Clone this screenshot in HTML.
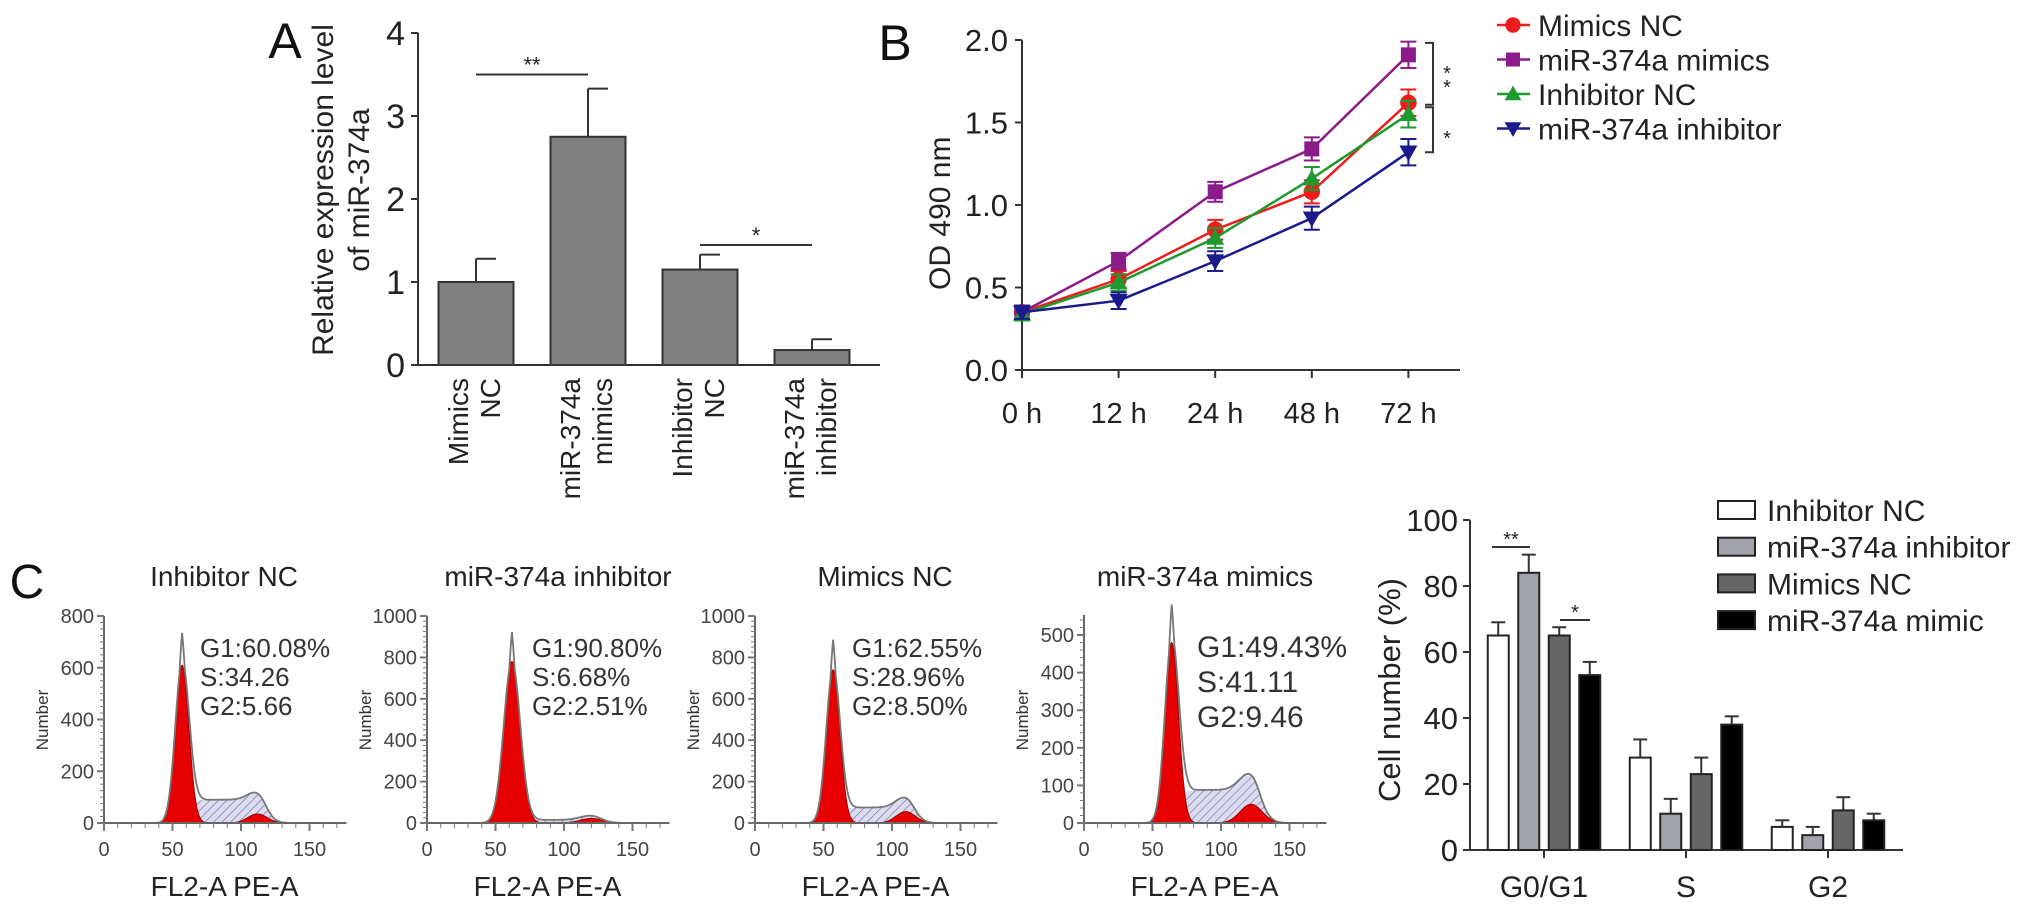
<!DOCTYPE html>
<html><head><meta charset="utf-8"><style>
html,body{margin:0;padding:0;background:#fff}
svg{display:block;font-family:"Liberation Sans",Arial,sans-serif}
</style></head><body>
<svg id="fig" width="2032" height="912" viewBox="0 0 2032 912" xmlns="http://www.w3.org/2000/svg">
<defs>
<pattern id="hatch" width="6" height="6" patternUnits="userSpaceOnUse" patternTransform="rotate(45)">
<rect width="6" height="6" fill="#dcdcf0"/><line x1="0" y1="0" x2="0" y2="6" stroke="#6a6aa0" stroke-width="1.2"/>
</pattern>
</defs>
<g id="gA"></g>
<g id="gB"></g>
<g id="gH"></g>
<g id="gC"></g>
</svg>
<script>
// ---------- Panel A data ----------
const aCategories = [["Mimics","NC"],["miR-374a","mimics"],["Inhibitor","NC"],["miR-374a","inhibitor"]];
const aValues = [1.0, 2.75, 1.15, 0.18];
const aErrors = [0.28, 0.58, 0.18, 0.13];
const aTicks = [0,1,2,3,4];
// ---------- Panel B data ----------
const bTimes = ["0 h","12 h","24 h","48 h","72 h"];
const bSeriesNames = ["Mimics NC","miR-374a mimics","Inhibitor NC","miR-374a inhibitor"];
const bMimicsNC = [0.35,0.55,0.85,1.08,1.62];
const bMimics = [0.35,0.66,1.08,1.34,1.91];
const bInhNC = [0.34,0.53,0.80,1.16,1.55];
const bInh = [0.35,0.42,0.66,0.92,1.32];
const bErr = [0.04,0.05,0.06,0.07,0.08];
const bTicks = [0,0.5,1.0,1.5,2.0];
// ---------- Panel C histogram data (G1 mean, G1 height, G1 sd, S level, G2 mean, G2 height, G2 sd) ----------
const hTitles = ["Inhibitor NC","miR-374a inhibitor","Mimics NC","miR-374a mimics"];
const hStats = [["G1:60.08%","S:34.26","G2:5.66"],["G1:90.80%","S:6.68%","G2:2.51%"],["G1:62.55%","S:28.96%","G2:8.50%"],["G1:49.43%","S:41.11","G2:9.46"]];
const hYMax = [800,1000,1000,500];
const hG1Mean = [57,62,57,64];
const hG1Height = [610,780,740,480];
const hG1Sd = [5,6,5,5];
const hSLevel = [90,15,75,88];
const hG2Mean = [112,120,110,122];
const hG2Height = [35,22,55,50];
const hG2Sd = [7,8,7,8];
// ---------- Panel C bar data ----------
const cPhases = ["G0/G1","S","G2"];
const cGroups = ["Inhibitor NC","miR-374a inhibitor","Mimics NC","miR-374a mimic"];
const cInhNC = [65,28,7];
const cInh = [84,11,4.5];
const cMimNC = [65,23,12];
const cMim = [53,38,9];
const cInhNCErr = [4,5.5,2];
const cInhErr = [5.5,4.5,2.5];
const cMimNCErr = [2.5,5,4];
const cMimErr = [4,2.5,2];
const cTicks = [0,20,40,60,80,100];

const NS="http://www.w3.org/2000/svg";
function mk(parent, tag, attrs, text){
  const e=document.createElementNS(NS,tag);
  for(const k in attrs) e.setAttribute(k,attrs[k]);
  if(text!==undefined) e.textContent=text;
  parent.appendChild(e); return e;
}
const INK="#333";

// ================= Panel A =================
(function(){
  const g=document.getElementById('gA');
  const x0=418, yA=v=>365-v*83, bx=i=>476+i*112, bw=75;
  let t=mk(g,'text',{x:285,y:58,'font-size':50,'text-anchor':'middle',fill:'#111'},'A');
   
  let ax=mk(g,'line',{x1:x0,y1:yA(4),x2:x0,y2:yA(0),stroke:INK,'stroke-width':2});
   
  let bx0=mk(g,'line',{x1:x0,y1:yA(0),x2:880,y2:yA(0),stroke:INK,'stroke-width':2});
   
  aTicks.forEach(v=>{
    mk(g,'line',{x1:x0-7,y1:yA(v),x2:x0,y2:yA(v),stroke:INK,'stroke-width':2});
    let l=mk(g,'text',{x:x0-13,y:yA(v)+12,'font-size':34,'text-anchor':'end',fill:'#222'},String(v));
     
  });
  let yt=mk(g,'text',{transform:'translate(333,190) rotate(-90)','font-size':30,'text-anchor':'middle',fill:'#222'});
   
  mk(yt,'tspan',{x:0,y:0},'Relative expression level');
  mk(yt,'tspan',{x:0,y:36},'of miR-374a');
  aValues.forEach((v,i)=>{
    const cx=bx(i);
    mk(g,'line',{x1:cx,y1:yA(v),x2:cx,y2:yA(v+aErrors[i]),stroke:INK,'stroke-width':2});
    mk(g,'line',{x1:cx,y1:yA(v+aErrors[i]),x2:cx+20,y2:yA(v+aErrors[i]),stroke:INK,'stroke-width':2});
    let r=mk(g,'rect',{x:cx-bw/2,y:yA(v),width:bw,height:yA(0)-yA(v),fill:'#808080',stroke:INK,'stroke-width':2});
     
    const lb=mk(g,'text',{transform:`translate(${cx},378) rotate(-90)`,'font-size':28,'text-anchor':'end',fill:'#222'});
     
    mk(lb,'tspan',{x:0,y:-8},aCategories[i][0]);
    mk(lb,'tspan',{x:0,y:24},aCategories[i][1]);
  });
  // significance
  mk(g,'line',{x1:bx(0),y1:yA(3.5),x2:bx(1),y2:yA(3.5),stroke:INK,'stroke-width':2});
  let s1=mk(g,'text',{x:(bx(0)+bx(1))/2,y:yA(3.5)-2,'font-size':22,'text-anchor':'middle',fill:'#222'},'**');
   
  mk(g,'line',{x1:bx(2),y1:245,x2:bx(3),y2:245,stroke:INK,'stroke-width':2});
  let s2=mk(g,'text',{x:(bx(2)+bx(3))/2,y:243,'font-size':22,'text-anchor':'middle',fill:'#222'},'*');
   
})();

// ================= Panel B =================
(function(){
  const g=document.getElementById('gB');
  const x0=1022, yB=v=>370-v*165, xB=i=>1022+i*96.6;
  let t=mk(g,'text',{x:895,y:60,'font-size':50,'text-anchor':'middle',fill:'#111'},'B');
   
  let ya=mk(g,'line',{x1:x0,y1:yB(2),x2:x0,y2:yB(0),stroke:INK,'stroke-width':2});
   
  let xa=mk(g,'line',{x1:x0,y1:yB(0),x2:1460,y2:yB(0),stroke:INK,'stroke-width':2});
   
  bTicks.forEach(v=>{
    mk(g,'line',{x1:x0-7,y1:yB(v),x2:x0,y2:yB(v),stroke:INK,'stroke-width':2});
    let l=mk(g,'text',{x:x0-14,y:yB(v)+11,'font-size':31,'text-anchor':'end',fill:'#222'},v.toFixed(1));
     
  });
  bTimes.forEach((s,i)=>{
    mk(g,'line',{x1:xB(i),y1:yB(0),x2:xB(i),y2:yB(0)+8,stroke:INK,'stroke-width':2});
    let l=mk(g,'text',{x:xB(i),y:423,'font-size':29,'text-anchor':'middle',fill:'#222'},s);
     
  });
  let yt=mk(g,'text',{transform:`translate(950,${yB(0.95)}) rotate(-90)`,'font-size':30,'text-anchor':'middle',fill:'#222'},'OD 490 nm');
   
  const series=[bMimicsNC,bMimics,bInhNC,bInh];
  const colors=['#ee1c1c','#8b1a8b','#1e9a2e','#1a1a8c'];
  const shapes=['circle','square','tri','tridown'];
  function marker(par,shape,cx,cy,col,s){
    let m;
    if(shape==='circle') m=mk(par,'circle',{cx:cx,cy:cy,r:s*0.55,fill:col});
    else if(shape==='square') m=mk(par,'rect',{x:cx-s/2,y:cy-s/2,width:s,height:s,fill:col});
    else if(shape==='tri') m=mk(par,'polygon',{points:`${cx},${cy-s*0.6} ${cx-s*0.6},${cy+s*0.45} ${cx+s*0.6},${cy+s*0.45}`,fill:col});
    else m=mk(par,'polygon',{points:`${cx},${cy+s*0.6} ${cx-s*0.6},${cy-s*0.45} ${cx+s*0.6},${cy-s*0.45}`,fill:col});
    return m;
  }
  series.forEach((arr,si)=>{
    const sg=mk(g,'g',{});
     
    let p=mk(sg,'polyline',{points:arr.map((v,i)=>xB(i)+','+yB(v)).join(' '),fill:'none',stroke:colors[si],'stroke-width':2.5});
     
    arr.forEach((v,i)=>{
      const e=bErr[i];
      mk(sg,'line',{x1:xB(i),y1:yB(v-e),x2:xB(i),y2:yB(v+e),stroke:colors[si],'stroke-width':2});
      mk(sg,'line',{x1:xB(i)-8,y1:yB(v-e),x2:xB(i)+8,y2:yB(v-e),stroke:colors[si],'stroke-width':2});
      mk(sg,'line',{x1:xB(i)-8,y1:yB(v+e),x2:xB(i)+8,y2:yB(v+e),stroke:colors[si],'stroke-width':2});
      const m=marker(sg,shapes[si],xB(i),yB(v),colors[si],15);
       
    });
  });
  // brackets
  const xb=1425;
  mk(g,'polyline',{points:`${xb},${yB(bMimics[4])-12} ${xb+8},${yB(bMimics[4])-12} ${xb+8},${yB(bMimicsNC[4])+2} ${xb},${yB(bMimicsNC[4])+2}`,fill:'none',stroke:INK,'stroke-width':2});
  mk(g,'polyline',{points:`${xb},${yB(bInhNC[4])-7} ${xb+8},${yB(bInhNC[4])-7} ${xb+8},${yB(bInh[4])+0} ${xb},${yB(bInh[4])+0}`,fill:'none',stroke:INK,'stroke-width':2});
  let st1=mk(g,'text',{x:1447,y:80,'font-size':20,'text-anchor':'middle',fill:'#222'},'*');
   
  let st1b=mk(g,'text',{x:1447,y:94,'font-size':20,'text-anchor':'middle',fill:'#222'},'*');
   
  let st2=mk(g,'text',{x:1447,y:145,'font-size':20,'text-anchor':'middle',fill:'#222'},'*');
   
  // legend
  bSeriesNames.forEach((n,i)=>{
    const ly=25+i*34.5;
    const lg=mk(g,'g',{});
     
    mk(lg,'line',{x1:1497,y1:ly,x2:1530,y2:ly,stroke:colors[i],'stroke-width':2.5});
    marker(lg,shapes[i],1513,ly,colors[i],14);
    mk(lg,'text',{x:1538,y:ly+11,'font-size':30,fill:'#222'},n);
  });
})();

// ================= Panel C histograms =================
(function(){
  const g=document.getElementById('gH');
  let t=mk(g,'text',{x:27,y:598,'font-size':48,'text-anchor':'middle',fill:'#111'},'C');
   
  const axX=[104,427,755,1084];
  const titleX=[224,558,885,1205];
  const statX=[200,532,852,1197];
  const statFont=[26,26,26,30];
  const statDy=[29,29,29,35];
  const kx=1.37, y0=823;
  const gauss=(x,m,h,s)=>h*Math.exp(-0.5*((x-m)/s)**2);
  hTitles.forEach((title,p)=>{
    const pg=mk(g,'g',{});
     
    const X=u=>axX[p]+u*kx;
    const top=p===3?615:616;
    const ky=p===3?(823-635)/500:(823-616)/hYMax[p];
    const Y=v=>y0-v*ky;
    let tt=mk(pg,'text',{x:titleX[p],y:586,'font-size':28,'text-anchor':'middle',fill:'#222'},title);
     
    // curves
    const m1=hG1Mean[p],h1=hG1Height[p],s1=hG1Sd[p],sl=hSLevel[p],m2=hG2Mean[p],h2=hG2Height[p],s2=hG2Sd[p];
    const sfun=u=>{ const a=1/(1+Math.exp(-(u-(m1+4))/2.5)); const b=1/(1+Math.exp((u-(m2+6))/3)); return sl*a*b; };
    let sp=[],g1p=[],g2p=[],tot=[];
    for(let u=0;u<=175;u+=0.5){
      const a=gauss(u,m1,h1,s1), b=gauss(u,m2,h2,s2), c=sfun(u);
      g1p.push(X(u)+','+Y(a)); g2p.push(X(u)+','+Y(b)); sp.push(X(u)+','+Y(c+b)); tot.push(X(u)+','+Y(a+b+c+(Math.abs(u-m1)<2?h1*0.18*(1-Math.abs(u-m1)/2):0)));
    }
    let sh=mk(pg,'polygon',{points:`${X(0)},${y0} `+sp.join(' ')+` ${X(175)},${y0}`,fill:'url(#hatch)',stroke:'none'});
     
    let r1=mk(pg,'polygon',{points:`${X(0)},${y0} `+g1p.join(' ')+` ${X(175)},${y0}`,fill:'#e60000',stroke:'#900','stroke-width':1});
     
    let r2=mk(pg,'polygon',{points:`${X(0)},${y0} `+g2p.join(' ')+` ${X(175)},${y0}`,fill:'#e60000',stroke:'#900','stroke-width':1});
     
    let tl=mk(pg,'polyline',{points:tot.join(' '),fill:'none',stroke:'#777','stroke-width':1.8});
     
    // axes
    mk(pg,'line',{x1:axX[p],y1:top,x2:axX[p],y2:y0,stroke:'#666','stroke-width':2});
    mk(pg,'line',{x1:axX[p],y1:y0,x2:X(177),y2:y0,stroke:'#666','stroke-width':2});
    const step=p===3?100:200;
    const minor=p===3?20:(p===0?25:25);
    for(let v=0;v<=hYMax[p]+(p===3?50:0);v+=minor){
      if(Y(v)<top-1) break;
      const major=v%step===0 && v<=hYMax[p];
      mk(pg,'line',{x1:axX[p]-(major?7:4),y1:Y(v),x2:axX[p],y2:Y(v),stroke:'#777','stroke-width':major?2:1});
      if(major){let l=mk(pg,'text',{x:axX[p]-10,y:Y(v)+7,'font-size':20,'text-anchor':'end',fill:'#444'},String(v));
         }
    }
    for(let u=0;u<=170;u+=10){
      const major=u%50===0;
      mk(pg,'line',{x1:X(u),y1:y0,x2:X(u),y2:y0+(major?8:5),stroke:'#777','stroke-width':major?2:1});
      if(major){let l=mk(pg,'text',{x:X(u),y:856,'font-size':20,'text-anchor':'middle',fill:'#444'},String(u));
         }
    }
    let yl=mk(pg,'text',{transform:`translate(${axX[p]-56},720) rotate(-90)`,'font-size':17,'text-anchor':'middle',fill:'#333'},'Number');
     
    let xl=mk(pg,'text',{x:X(88),y:896,'font-size':28,'text-anchor':'middle',fill:'#222'},'FL2-A PE-A');
     
    hStats[p].forEach((s,k)=>{
      let st=mk(pg,'text',{x:statX[p],y:657+k*statDy[p],'font-size':statFont[p],fill:'#333'},s);
       
    });
  });
})();

// ================= Panel C bar chart =================
(function(){
  const g=document.getElementById('gC');
  const x0=1470, yC=v=>850-v*3.3, gx=i=>1544+i*142, bw=21;
  const series=[cInhNC,cInh,cMimNC,cMim], errs=[cInhNCErr,cInhErr,cMimNCErr,cMimErr];
  const fills=['#ffffff','#a2a2aa','#666666','#000000'];
  let ya=mk(g,'line',{x1:x0,y1:yC(100),x2:x0,y2:yC(0),stroke:INK,'stroke-width':2});
   
  let xa=mk(g,'line',{x1:x0,y1:yC(0),x2:1903,y2:yC(0),stroke:INK,'stroke-width':2});
   
  cTicks.forEach(v=>{
    mk(g,'line',{x1:x0-7,y1:yC(v),x2:x0,y2:yC(v),stroke:INK,'stroke-width':2});
    let l=mk(g,'text',{x:x0-12,y:yC(v)+11,'font-size':31,'text-anchor':'end',fill:'#222'},String(v));
     
  });
  let yt=mk(g,'text',{transform:'translate(1400,690) rotate(-90)','font-size':31,'text-anchor':'middle',fill:'#222'},'Cell number (%)');
   
  cPhases.forEach((ph,i)=>{
    mk(g,'line',{x1:gx(i),y1:yC(0),x2:gx(i),y2:yC(0)+8,stroke:INK,'stroke-width':2});
    let l=mk(g,'text',{x:gx(i),y:897,'font-size':30,'text-anchor':'middle',fill:'#222'},ph);
     
    series.forEach((arr,s)=>{
      const cx=gx(i)+(s-1.5)*30.5, v=arr[i], e=errs[s][i];
      mk(g,'line',{x1:cx,y1:yC(v),x2:cx,y2:yC(v+e),stroke:INK,'stroke-width':2});
      mk(g,'line',{x1:cx-7,y1:yC(v+e),x2:cx+7,y2:yC(v+e),stroke:INK,'stroke-width':2});
      let r=mk(g,'rect',{x:cx-bw/2,y:yC(v),width:bw,height:yC(0)-yC(v),fill:fills[s],stroke:'#222','stroke-width':2});
       
    });
  });
  // significance
  const c0=gx(0);
  mk(g,'line',{x1:c0-52,y1:547,x2:c0-14,y2:547,stroke:INK,'stroke-width':2});
  let s1=mk(g,'text',{x:c0-33,y:546,'font-size':20,'text-anchor':'middle',fill:'#222'},'**');
   
  mk(g,'line',{x1:c0+16,y1:620,x2:c0+46,y2:620,stroke:INK,'stroke-width':2});
  let s2=mk(g,'text',{x:c0+31,y:619,'font-size':20,'text-anchor':'middle',fill:'#222'},'*');
   
  // legend
  cGroups.forEach((n,i)=>{
    const ly=510+i*36.7;
    const lg=mk(g,'g',{});
     
    mk(lg,'rect',{x:1718,y:ly-9,width:37,height:18,fill:fills[i],stroke:'#222','stroke-width':2});
    mk(lg,'text',{x:1767,y:ly+11,'font-size':30,fill:'#222'},n);
  });
})();
</script>
</body></html>
